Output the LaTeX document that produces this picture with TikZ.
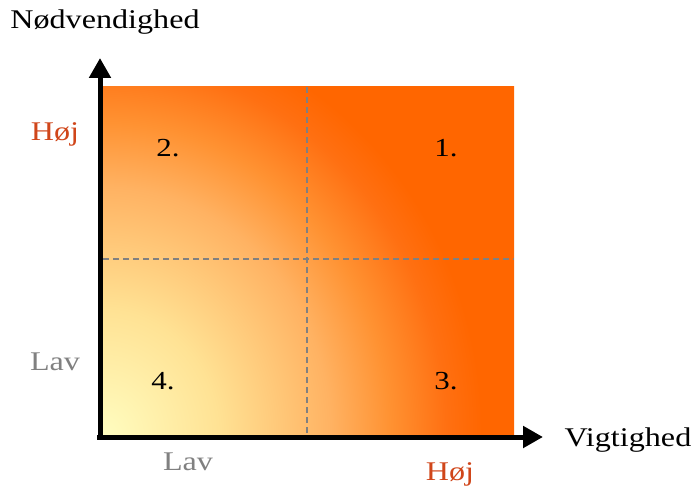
\documentclass[tikz,border=0pt]{standalone}
\usepackage{fontspec}
\setmainfont{Liberation Serif}
\usetikzlibrary{arrows.meta}
\definecolor{c0}{HTML}{FFFDC0}
\definecolor{c1}{HTML}{FFE294}
\definecolor{c2}{HTML}{FFB262}
\definecolor{c3}{HTML}{FF9232}
\definecolor{c4}{HTML}{FF7012}
\definecolor{c5}{HTML}{FF6600}
\definecolor{hoj}{HTML}{D0461A}
\definecolor{lav}{HTML}{808080}
\pgfdeclareradialshading{quad}{\pgfpoint{0bp}{0bp}}{color(0bp)=(c0); color(4.5bp)=(c1); color(8.9bp)=(c2); color(11.2bp)=(c3); color(13.4bp)=(c4); color(14.8bp)=(c5); color(50bp)=(c5)}
\newcommand{\wide}[1]{\scalebox{1.19}[1]{#1}}
\tikzset{
  axis/.style={line width=5pt, -{Triangle[width=21pt,length=20pt]}},
  divider/.style={gray, line width=1.3pt, dash pattern=on 6pt off 4pt},
  lbl/.style={font=\fontsize{27}{30}\selectfont, inner sep=0pt},
  num/.style={font=\fontsize{26}{28}\selectfont, inner sep=0pt}
}
\begin{document}
\begin{tikzpicture}[x=1pt,y=-1pt]
\useasboundingbox (0,0) rectangle (695,494);
\begin{scope}
  \clip (103,87) rectangle (514,436);
  \shade[shading=quad] (103,436) ellipse[x radius=640pt, y radius=700pt];
\end{scope}
\draw[divider] (307,87) -- (307,436);
\draw[divider] (103,259) -- (514,259);
\coordinate (o) at (100,438);
\coordinate (ytop) at (100,58);
\coordinate (xo) at (97,437);
\coordinate (xend) at (543,437);
\draw[axis] (o) -- (ytop);
\draw[axis] (xo) -- (xend);
\node[lbl] (ny) at (105,22) {\wide{Nødvendighed}};
\node[lbl] (vx) at (628,440) {\wide{Vigtighed}};
\node[lbl, text=hoj] (hy) at (55,134) {\wide{Høj}};
\node[lbl, text=lav] (ly) at (55,362) {\wide{Lav}};
\node[lbl, text=lav] (lx) at (188,462) {\wide{Lav}};
\node[lbl, text=hoj] (hx) at (450,474) {\wide{Høj}};
\node[num] (q2) at (168,148) {\wide{2.}};
\node[num] (q1) at (446,148) {\wide{1.}};
\node[num] (q4) at (163,381) {\wide{4.}};
\node[num] (q3) at (446,381) {\wide{3.}};
\end{tikzpicture}
\end{document}
